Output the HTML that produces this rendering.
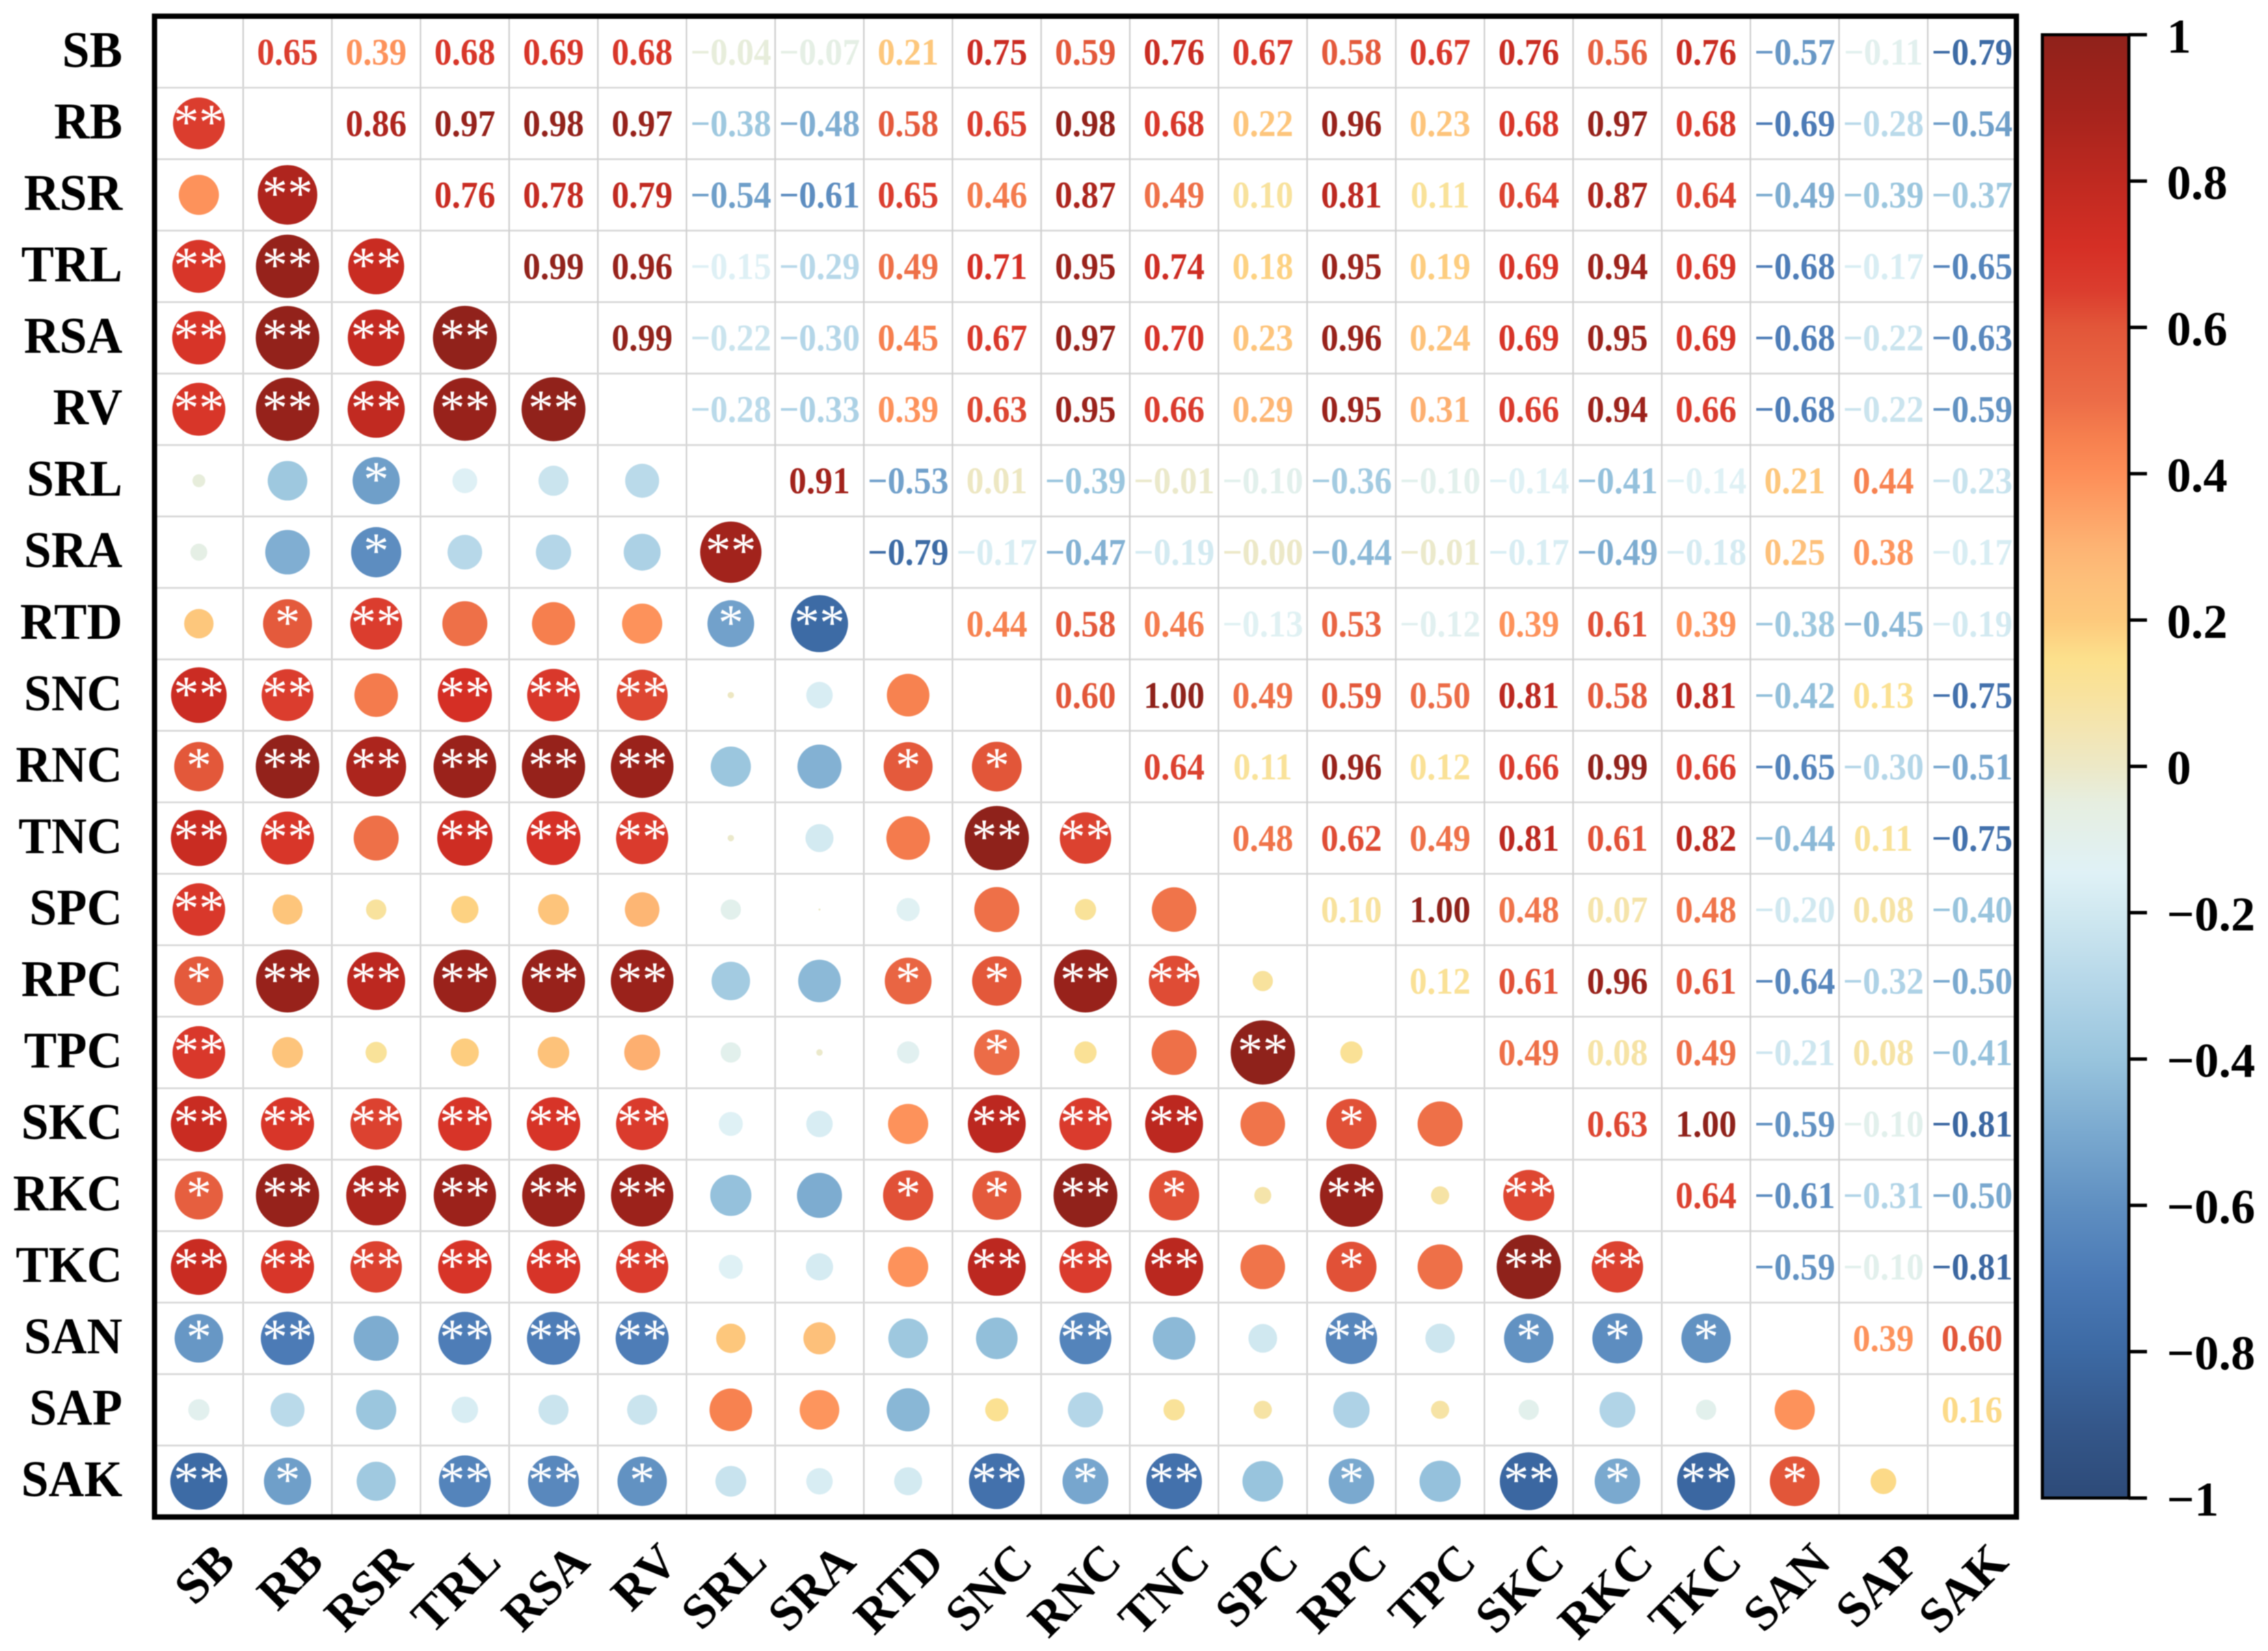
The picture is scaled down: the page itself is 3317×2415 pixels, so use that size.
<!DOCTYPE html>
<html lang="en">
<head>
<meta charset="utf-8">
<title>Correlation matrix</title>
<style>
html,body{margin:0;padding:0;background:#fff;width:3317px;height:2415px;overflow:hidden}
svg{display:block;filter:blur(0.9px)}
text{font-family:"Liberation Serif","Times New Roman",serif;font-weight:bold}
</style>
</head>
<body>
<svg id="chart" xmlns="http://www.w3.org/2000/svg" width="3317" height="2415" viewBox="0 0 3317 2415">
  <defs><linearGradient id="cbar-grad" x1="0" y1="0" x2="0" y2="1"></linearGradient></defs>
  <rect x="0" y="0" width="3317" height="2415" fill="#ffffff"/>
  <g id="grid"></g>
  <g id="circles"></g>
  <g id="stars"></g>
  <g id="values"></g>
  <rect x="226" y="23.7" width="2723" height="2195.3" fill="none" stroke="#000" stroke-width="7.8"/>
  <g id="ylabels"></g>
  <g id="xlabels"></g>
  <g id="colorbar"></g>
</svg>
<script>
// ---- data ----
const variables = ["SB","RB","RSR","TRL","RSA","RV","SRL","SRA","RTD","SNC","RNC","TNC","SPC","RPC","TPC","SKC","RKC","TKC","SAN","SAP","SAK"];

// Upper triangle: each row starts at the column just right of the diagonal.
const correlationRows = [
  [0.65,0.39,0.68,0.69,0.68,-0.04,-0.07,0.21,0.75,0.59,0.76,0.67,0.58,0.67,0.76,0.56,0.76,-0.57,-0.11,-0.79],
  [0.86,0.97,0.98,0.97,-0.38,-0.48,0.58,0.65,0.98,0.68,0.22,0.96,0.23,0.68,0.97,0.68,-0.69,-0.28,-0.54],
  [0.76,0.78,0.79,-0.54,-0.61,0.65,0.46,0.87,0.49,0.10,0.81,0.11,0.64,0.87,0.64,-0.49,-0.39,-0.37],
  [0.99,0.96,-0.15,-0.29,0.49,0.71,0.95,0.74,0.18,0.95,0.19,0.69,0.94,0.69,-0.68,-0.17,-0.65],
  [0.99,-0.22,-0.30,0.45,0.67,0.97,0.70,0.23,0.96,0.24,0.69,0.95,0.69,-0.68,-0.22,-0.63],
  [-0.28,-0.33,0.39,0.63,0.95,0.66,0.29,0.95,0.31,0.66,0.94,0.66,-0.68,-0.22,-0.59],
  [0.91,-0.53,0.01,-0.39,-0.01,-0.10,-0.36,-0.10,-0.14,-0.41,-0.14,0.21,0.44,-0.23],
  [-0.79,-0.17,-0.47,-0.19,-0.001,-0.44,-0.01,-0.17,-0.49,-0.18,0.25,0.38,-0.17],
  [0.44,0.58,0.46,-0.13,0.53,-0.12,0.39,0.61,0.39,-0.38,-0.45,-0.19],
  [0.60,1.00,0.49,0.59,0.50,0.81,0.58,0.81,-0.42,0.13,-0.75],
  [0.64,0.11,0.96,0.12,0.66,0.99,0.66,-0.65,-0.30,-0.51],
  [0.48,0.62,0.49,0.81,0.61,0.82,-0.44,0.11,-0.75],
  [0.10,1.00,0.48,0.07,0.48,-0.20,0.08,-0.40],
  [0.12,0.61,0.96,0.61,-0.64,-0.32,-0.50],
  [0.49,0.08,0.49,-0.21,0.08,-0.41],
  [0.63,1.00,-0.59,-0.10,-0.81],
  [0.64,-0.61,-0.31,-0.50],
  [-0.59,-0.10,-0.81],
  [0.39,0.60],
  [0.16],
  []
];

// Lower triangle significance (number of asterisks); row i has i entries, starting at column 0.
const significanceRows = [
  [],
  [2],
  [0,2],
  [2,2,2],
  [2,2,2,2],
  [2,2,2,2,2],
  [0,0,1,0,0,0],
  [0,0,1,0,0,0,2],
  [0,1,2,0,0,0,1,2],
  [2,2,0,2,2,2,0,0,0],
  [1,2,2,2,2,2,0,0,1,1],
  [2,2,0,2,2,2,0,0,0,2,2],
  [2,0,0,0,0,0,0,0,0,0,0,0],
  [1,2,2,2,2,2,0,0,1,1,2,2,0],
  [2,0,0,0,0,0,0,0,0,1,0,0,2,0],
  [2,2,2,2,2,2,0,0,0,2,2,2,0,1,0],
  [1,2,2,2,2,2,0,0,1,1,2,1,0,2,0,2],
  [2,2,2,2,2,2,0,0,0,2,2,2,0,1,0,2,2],
  [1,2,0,2,2,2,0,0,0,0,2,0,0,2,0,1,1,1],
  [0,0,0,0,0,0,0,0,0,0,0,0,0,0,0,0,0,0,0],
  [2,1,0,2,2,1,0,0,0,2,1,2,0,1,0,2,1,2,1,0]
];

const colorbarTicks = [1,0.8,0.6,0.4,0.2,0,-0.2,-0.4,-0.6,-0.8,-1];

// Colour scale anchors (value, colour) sampled from the colour bar.
const scaleValues = [-1,-0.9,-0.8,-0.7,-0.6,-0.5,-0.4,-0.3,-0.2,-0.145,-0.05,0,0.05,0.1,0.147,0.2,0.25,0.3,0.4,0.45,0.5,0.6,0.65,0.71,0.8,0.9,0.95,1];
const scaleColors = ["#2d4a78","#34578a","#3c69a3","#4a79b5","#5f8fc1","#7aa9cf","#98c4dd","#b4d6e8","#d0e8f0","#dff1f6","#e6eee0","#ece8c6","#f3e5b2","#f8e29d","#fce08c","#fdc97c","#fdc07a","#fdb373","#fd8e58","#f67f4e","#ec6c47","#e25639","#db3d2e","#d52f25","#bf2920","#a4231c","#9a221b","#8f221b"];

// ---- axis functions ----
const NS = "http://www.w3.org/2000/svg";
const plotLeft = 226, plotRight = 2949, plotTop = 23.7, plotBottom = 2219;
const cellW = (plotRight - plotLeft) / variables.length;
const cellH = (plotBottom - plotTop) / variables.length;
function xEdge(i){ return plotLeft + i * cellW; }
function yEdge(i){ return plotTop + i * cellH; }
function xCenter(i){ return xEdge(i + 0.5); }
function yCenter(i){ return yEdge(i + 0.5); }
function radius(r){ return 47 * Math.sqrt(Math.abs(r)); }
function cbarY(v){ return 1121 - v * 1070.2; }
function hex(c){ return [1,3,5].map(function(k){ return parseInt(c.substr(k,2),16); }); }
function colour(r){
  var v = Math.max(-1, Math.min(1, r));
  for (var i = 0; i < scaleValues.length - 1; i++){
    if (v <= scaleValues[i+1]){
      var t = (v - scaleValues[i]) / (scaleValues[i+1] - scaleValues[i]);
      var a = hex(scaleColors[i]), b = hex(scaleColors[i+1]);
      return "rgb(" + a.map(function(x,k){ return Math.round(x + (b[k]-x)*t); }).join(",") + ")";
    }
  }
  return scaleColors[scaleColors.length-1];
}
function fmt(v){ return v.toFixed(2).replace("-", "\u2212"); }
function tickFmt(v){ return String(v).replace("-", "\u2212"); }
function make(parentId, tag, attrs, content){
  var el = document.createElementNS(NS, tag);
  for (var k in attrs) el.setAttribute(k, attrs[k]);
  if (content !== undefined) el.textContent = content;
  document.getElementById(parentId).appendChild(el);
  return el;
}

// ---- grid ----
for (var g = 1; g < variables.length; g++){
  var vLine = make("grid", "line", {x1:xEdge(g), x2:xEdge(g), y1:plotTop, y2:plotBottom, stroke:"#cfcfcf", "stroke-width":2.3});
  
  
  var hLine = make("grid", "line", {x1:plotLeft, x2:plotRight, y1:yEdge(g), y2:yEdge(g), stroke:"#d8d8d8", "stroke-width":2.6});
  
  
}

// ---- axis labels ----
variables.forEach(function(name, i){
  var yl = make("ylabels", "text", {x:0, y:0, "text-anchor":"end", "font-size":72, fill:"#000", transform:"translate(179 " + (yCenter(i)+22) + ") scale(1 1.05)"}, name);
  
  
  var px = xCenter(i) + 56, py = 2288;
  var xl = make("xlabels", "text", {x:px, y:py, "text-anchor":"end", "font-size":72, fill:"#000", transform:"rotate(-45 " + px + " " + py + ")"}, name);
  
  
});

// ---- marks ----
correlationRows.forEach(function(row, i){
  row.forEach(function(r, k){
    var j = i + 1 + k;
    var label = make("values", "text", {x:0, y:0, "text-anchor":"middle", "font-size":51, fill:colour(r), transform:"translate(" + xCenter(j) + " " + (yCenter(i)+18.5) + ") scale(1 1.07)"}, fmt(r));
    
    
    var c = make("circles", "circle", {cx:xCenter(i), cy:yCenter(j), r:radius(r), fill:colour(r)});
    
    
    var n = significanceRows[j][i];
    if (n > 0){
      var s = make("stars", "text", {x:xCenter(i), y:yCenter(j)+23, "text-anchor":"middle", "font-size":74, fill:"#ffffff", style:"font-weight:normal"}, "*".repeat(n));
      
      
    }
  });
});

// ---- colour bar ----
var grad = document.getElementById("cbar-grad");
for (var q = scaleValues.length - 1; q >= 0; q--){
  var st = document.createElementNS(NS, "stop");
  st.setAttribute("offset", (1 - scaleValues[q]) / 2);
  st.setAttribute("stop-color", scaleColors[q]);
  grad.appendChild(st);
}
var cbarRect = make("colorbar", "rect", {x:2987, y:cbarY(1), width:126.5, height:cbarY(-1)-cbarY(1), fill:"url(#cbar-grad)", stroke:"#000", "stroke-width":4.5});


colorbarTicks.forEach(function(v){
  var tk = make("colorbar", "line", {x1:3113, x2:3140, y1:cbarY(v), y2:cbarY(v), stroke:"#000", "stroke-width":5});
  
  
  var tl = make("colorbar", "text", {x:3169, y:cbarY(v)+26, "font-size":71, fill:"#000"}, tickFmt(v));
  
  
});
</script>
</body>
</html>
